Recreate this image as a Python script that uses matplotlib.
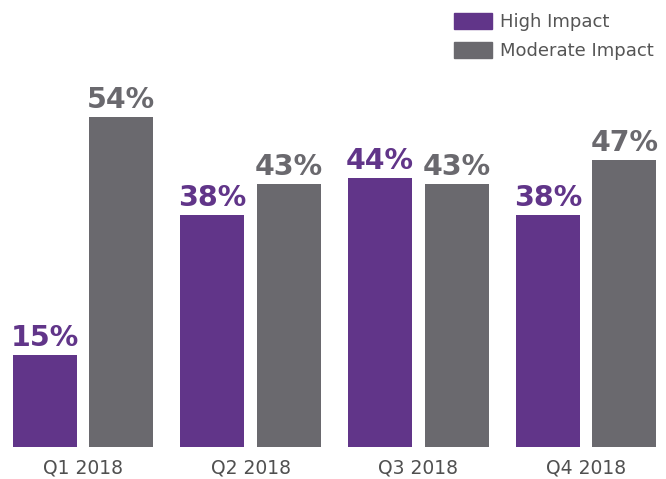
""" grouped bars: impact by quarter """
import numpy as np
import matplotlib.pyplot as plt
from matplotlib.patches import Patch

quarters = ['Q1 2018', 'Q2 2018', 'Q3 2018', 'Q4 2018']
high_impact = [15, 38, 44, 38]
moderate_impact = [54, 43, 43, 47]
series_names = ['High Impact', 'Moderate Impact']

PURPLE = '#613589'
GRAY = '#6a696e'


def main():
    fig = plt.figure(figsize=(6.66, 4.79), dpi=100)
    ax = fig.add_axes([0, 32 / 479, 1, 447 / 479])

    x = np.arange(len(quarters))
    off = 0.228
    width = 0.382
    ax.bar(x - off, high_impact, width, color=PURPLE)
    ax.bar(x + off, moderate_impact, width, color=GRAY)

    for xi, h, m in zip(x, high_impact, moderate_impact):
        ax.text(xi - off, h + 0.5, f'{h}%', ha='center', va='bottom',
                color=PURPLE, fontsize=20.5, fontweight='bold')
        ax.text(xi + off, m + 0.5, f'{m}%', ha='center', va='bottom',
                color=GRAY, fontsize=20.5, fontweight='bold')

    ax.set_xlim(-0.495, 3.477)
    ax.set_ylim(0, 73.2)
    ax.set_xticks(x)
    ax.set_xticklabels(quarters, fontsize=13.5, color='#505050')
    ax.tick_params(axis='x', length=0, pad=8)
    ax.set_yticks([])
    for s in ax.spines.values():
        s.set_visible(False)

    handles = [Patch(color=PURPLE), Patch(color=GRAY)]
    ax.legend(handles, series_names, loc='upper right', frameon=False,
              prop={'size': 13}, labelcolor='#555555',
              handlelength=2.1, handleheight=1.0, handletextpad=0.4,
              labelspacing=0.6, borderaxespad=0.3, bbox_to_anchor=(1.0, 1.0))

    fig.savefig('out.png', dpi=100)


if __name__ == "__main__":
    main()
